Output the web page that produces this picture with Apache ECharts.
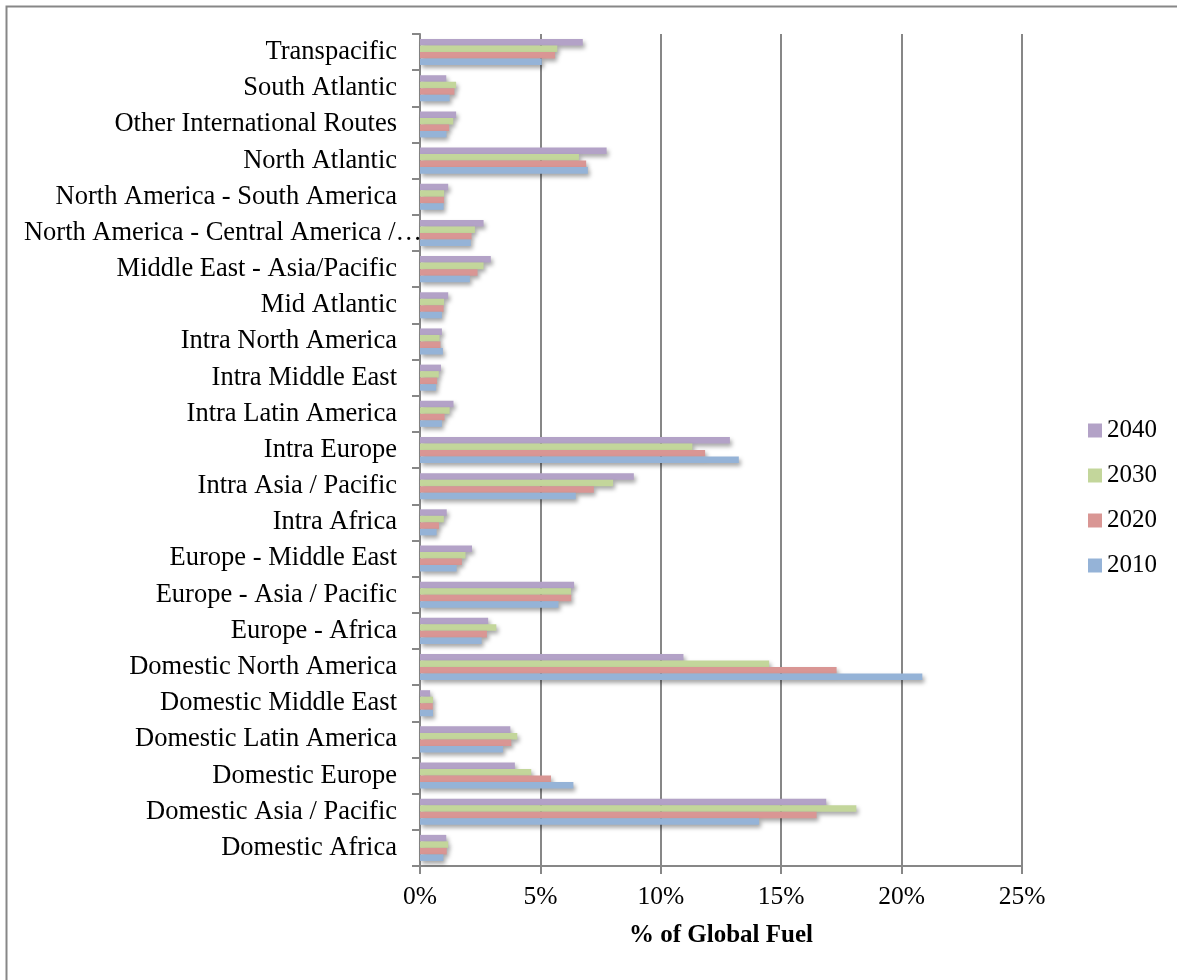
<!DOCTYPE html>
<html>
<head>
<meta charset="utf-8">
<title>% of Global Fuel by Route Group</title>
<script src="https://cdn.jsdelivr.net/npm/echarts@6/dist/echarts.min.js"></script>
<style>
  html, body { margin: 0; padding: 0; background: #ffffff; }
  #chart { width: 1177px; height: 980px; }
</style>
</head>
<body>
<div id="chart"></div>
<script>
// Route groups, listed bottom to top as they appear on the category axis
const categories = [
  'Domestic Africa',
  'Domestic Asia / Pacific',
  'Domestic Europe',
  'Domestic Latin America',
  'Domestic Middle East',
  'Domestic North America',
  'Europe - Africa',
  'Europe - Asia / Pacific',
  'Europe - Middle East',
  'Intra Africa',
  'Intra Asia / Pacific',
  'Intra Europe',
  'Intra Latin America',
  'Intra Middle East',
  'Intra North America',
  'Mid Atlantic',
  'Middle East - Asia/Pacific',
  'North America - Central America / Caribbean',
  'North America - South America',
  'North Atlantic',
  'Other International Routes',
  'South Atlantic',
  'Transpacific'
];

// Share of global fuel (%) per year, same order as categories
const fuel2010 = [0.97, 14.08, 6.37, 3.45, 0.54, 20.86, 2.56, 5.75, 1.52, 0.69, 6.47, 13.24, 0.91, 0.67, 0.95, 0.91, 2.07, 2.11, 0.98, 6.97, 1.10, 1.23, 5.06];
const fuel2020 = [1.11, 16.47, 5.44, 3.79, 0.53, 17.30, 2.78, 6.28, 1.74, 0.79, 7.22, 11.84, 1.02, 0.71, 0.85, 0.98, 2.39, 2.14, 1.00, 6.90, 1.21, 1.43, 5.61];
const fuel2030 = [1.17, 18.12, 4.62, 4.04, 0.54, 14.50, 3.17, 6.27, 1.89, 0.99, 8.02, 11.31, 1.23, 0.78, 0.81, 1.00, 2.64, 2.28, 1.00, 6.60, 1.38, 1.50, 5.70];
const fuel2040 = [1.09, 16.87, 3.94, 3.75, 0.42, 10.94, 2.83, 6.40, 2.16, 1.11, 8.88, 12.87, 1.39, 0.87, 0.91, 1.17, 2.94, 2.64, 1.17, 7.75, 1.50, 1.09, 6.76];

// Years in stacking order within a group: top bar first
const years = ['2040', '2030', '2020', '2010'];
const xTicks = { min: 0, max: 25, step: 5 };

const colors = { '2010': '#95b3d7', '2020': '#d99694', '2030': '#c3d69b', '2040': '#b3a2c7' };
const seriesData = { '2010': fuel2010, '2020': fuel2020, '2030': fuel2030, '2040': fuel2040 };

const font = '"Liberation Serif", "Times New Roman", serif';
const axisGrey = '#878787';

// The long route name is cut with an ellipsis and allowed to run up to the axis
const longName = 'North America - Central America / Caribbean';
const yData = categories.map(c => c === longName
  ? { value: c, textStyle: { width: 400, overflow: 'truncate', ellipsis: '…', padding: [0, -25, 0, 0] } }
  : c);

const chart = echarts.init(document.getElementById('chart'), null, { renderer: 'canvas' });

chart.setOption({
  backgroundColor: '#ffffff',
  animation: false,
  textStyle: { fontFamily: font, color: '#000' },
  graphic: [{
    type: 'rect',
    left: 4, top: 4,
    shape: { width: 1300, height: 1100 },
    style: { fill: 'none', stroke: axisGrey, lineWidth: 2 },
    silent: true, z: -1
  }],
  legend: {
    data: years,
    orient: 'vertical',
    left: 1083,
    top: 413,
    itemWidth: 14,
    itemHeight: 14,
    itemGap: 20,
    icon: 'rect',
    textStyle: { fontFamily: font, fontSize: 25, color: '#000' }
  },
  grid: { left: 420, right: 155, top: 34, bottom: 114, containLabel: false },
  xAxis: {
    type: 'value',
    min: xTicks.min,
    max: xTicks.max,
    interval: xTicks.step,
    name: '% of Global Fuel',
    nameLocation: 'middle',
    nameGap: 57,
    nameTextStyle: { fontFamily: font, fontSize: 25, fontWeight: 'bold', color: '#000' },
    axisLine: { show: true, lineStyle: { color: axisGrey, width: 2 } },
    axisTick: { show: true, length: 8, lineStyle: { color: axisGrey, width: 2 } },
    axisLabel: { formatter: '{value}%', fontFamily: font, fontSize: 25.5, color: '#000', margin: 18 },
    splitLine: { show: true, lineStyle: { color: axisGrey, width: 2 } }
  },
  yAxis: {
    type: 'category',
    data: yData,
    axisLine: { show: true, lineStyle: { color: axisGrey, width: 2 } },
    axisTick: { show: true, length: 8, lineStyle: { color: axisGrey, width: 2 } },
    axisLabel: {
      fontFamily: font, fontSize: 26.5, color: '#000', margin: 23, interval: 0
    },
    splitLine: { show: false }
  },
  series: years.map(y => ({
    name: y,
    type: 'bar',
    data: seriesData[y],
    barGap: '0%',
    barCategoryGap: '28%',
    itemStyle: {
      color: colors[y],
      shadowColor: 'rgba(0,0,0,0.35)',
      shadowBlur: 4,
      shadowOffsetX: 2,
      shadowOffsetY: 3
    }
  }))
});
</script>
</body>
</html>
